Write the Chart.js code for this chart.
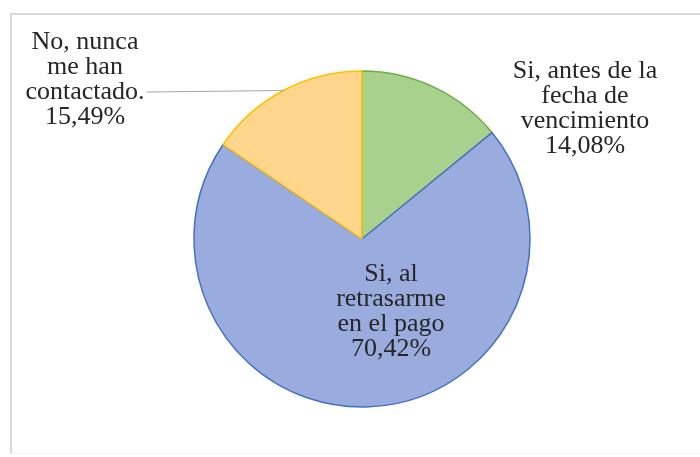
<!DOCTYPE html>
<html lang="es">
<head>
<meta charset="utf-8">
<title>Contacto de cobranza</title>
<script src="https://cdn.jsdelivr.net/npm/chart.js@4.4.1/dist/chart.umd.min.js"></script>
<style>
  html, body { margin: 0; padding: 0; background: #fff; }
  #wrap { position: relative; width: 700px; height: 457px; overflow: hidden; }
  #marco {
    position: absolute; left: 10px; top: 13px; right: -2px; bottom: 3px;
    border-top: 2px solid #d9d9d9; border-left: 2px solid #d9d9d9;
    border-bottom: 1px solid #f2f2f2;
    pointer-events: none;
  }
  canvas { position: absolute; left: 0; top: 0; }
</style>
</head>
<body>
<div id="wrap">
  <canvas id="grafico" width="700" height="457"></canvas>
  <div id="marco"></div>
</div>
<script>
// Categorías (ya partidas en líneas) y porcentajes
const categorias = [
    ['Si, antes de la', 'fecha de', 'vencimiento'],
    ['Si, al', 'retrasarme', 'en el pago'],
    ['No, nunca', 'me han', 'contactado.']
];
const porcentajes = [14.08, 70.42, 15.49];

const rellenos = ['#a9d18e', '#9aacdd', '#ffd68c'];
const bordes = ['#70ad47', '#4472c4', '#ffc000'];

// Posición de cada etiqueta respecto al centro del gráfico (px), y si lleva línea guía
const posEtiquetas = [
    { dx: 223, dy: -161, guia: false },
    { dx: 29, dy: 42, guia: false },
    { dx: -277, dy: -190, guia: true }
];

const fuente = '26px "Liberation Serif", "Times New Roman", serif';
const interlinea = 25;

function formatoPct(v) {
    return v.toFixed(2).replace('.', ',') + '%';
}

// Plugin para dibujar las etiquetas de datos al estilo de Excel
const etiquetasPlugin = {
    id: 'etiquetas',
    afterDatasetsDraw(chart) {
        const ctx = chart.ctx;
        const meta = chart.getDatasetMeta(0);
        ctx.save();
        ctx.font = fuente;
        ctx.fillStyle = '#262626';
        ctx.textAlign = 'center';
        ctx.textBaseline = 'alphabetic';

        meta.data.forEach((arco, i) => {
            const cx = arco.x;
            const cy = arco.y;
            const p = posEtiquetas[i];
            const lineas = categorias[i].concat([formatoPct(porcentajes[i])]);
            const x = cx + p.dx;
            const y0 = cy + p.dy;

            lineas.forEach((txt, k) => {
                ctx.fillText(txt, x, y0 + k * interlinea);
            });

            if (p.guia) {
                // línea guía desde el borde del sector hasta el final de la tercera línea
                const medio = (arco.startAngle + arco.endAngle) / 2;
                const ex = cx + Math.cos(medio) * arco.outerRadius;
                const ey = cy + Math.sin(medio) * arco.outerRadius;
                const ancho = ctx.measureText(lineas[2]).width;
                const lx = x + ancho / 2 + 2;
                const ly = y0 + 2 * interlinea - 7;
                ctx.beginPath();
                ctx.strokeStyle = '#a6a6a6';
                ctx.lineWidth = 1;
                ctx.moveTo(lx, ly);
                ctx.lineTo(ex, ey);
                ctx.stroke();
            }
        });
        ctx.restore();
    }
};

const ctx = document.getElementById('grafico').getContext('2d');
new Chart(ctx, {
    type: 'pie',
    data: {
        labels: categorias,
        datasets: [{
            data: porcentajes,
            backgroundColor: rellenos,
            borderColor: bordes,
            borderWidth: 1.5
        }]
    },
    options: {
        responsive: false,
        animation: false,
        radius: 168,
        layout: {
            padding: { left: 24, right: 0, top: 21, bottom: 0 }
        },
        plugins: {
            legend: { display: false },
            tooltip: { enabled: false }
        }
    },
    plugins: [etiquetasPlugin]
});
</script>
</body>
</html>
